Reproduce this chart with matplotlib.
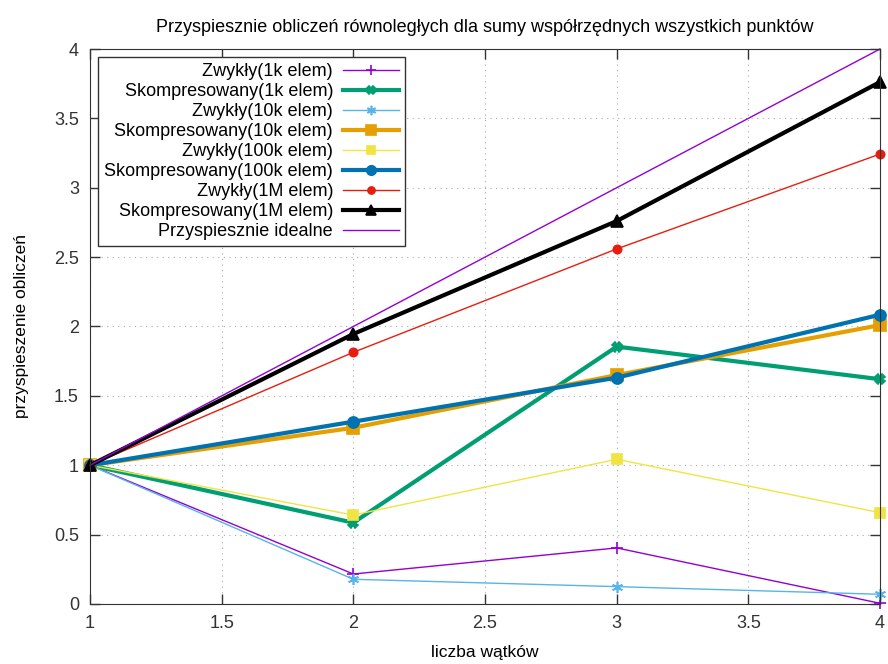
import matplotlib.pyplot as plt
import numpy as np

plt.rcParams['font.family'] = ['Liberation Sans', 'DejaVu Sans']

threads = [1, 2, 3, 4]

zwykly_1k = [1.0, 0.216, 0.404, 0.005]
skomp_1k = [1.0, 0.586, 1.855, 1.62]
zwykly_10k = [1.0, 0.178, 0.125, 0.07]
skomp_10k = [1.0, 1.27, 1.65, 2.01]
zwykly_100k = [1.0, 0.641, 1.043, 0.658]
skomp_100k = [1.0, 1.314, 1.631, 2.085]
zwykly_1m = [1.0, 1.814, 2.559, 3.243]
skomp_1m = [1.0, 1.946, 2.76, 3.762]
ideal = [1, 2, 3, 4]

labels = ["Zwykły(1k elem)", "Skompresowany(1k elem)", "Zwykły(10k elem)",
          "Skompresowany(10k elem)", "Zwykły(100k elem)", "Skompresowany(100k elem)",
          "Zwykły(1M elem)", "Skompresowany(1M elem)", "Przyspiesznie idealne"]

series = [zwykly_1k, skomp_1k, zwykly_10k, skomp_10k, zwykly_100k, skomp_100k,
          zwykly_1m, skomp_1m, ideal]

# gnuplot-like styles: color, linewidth, marker, markersize
styles = [
    ("#9400d3", 1.0, "+", 8),
    ("#009e73", 3.0, "X", 7),
    ("#56b4e9", 1.0, (6, 2, 0), 8),
    ("#e69f00", 3.0, "s", 8),
    ("#f0e442", 1.0, "s", 7),
    ("#0072b2", 3.0, "o", 8),
    ("#e51e10", 1.0, "o", 6),
    ("#000000", 3.0, "^", 9),
    ("#9400d3", 1.0, None, 0),
]

fig = plt.figure(figsize=(8.88, 6.64), dpi=100)
ax = fig.add_axes([0.1014, 0.0904, 0.8896, 0.8358])

for vals, lab, (col, lw, mk, ms) in zip(series, labels, styles):
    ax.plot(threads, vals, color=col, linewidth=lw, marker=mk, markersize=ms,
            markeredgewidth=1.2, label=lab, clip_on=False)

ax.set_xlim(1, 4)
ax.set_ylim(0, 4)
ax.set_xticks(np.arange(1, 4.01, 0.5))
ax.set_xticklabels(["1", "1.5", "2", "2.5", "3", "3.5", "4"])
ax.set_yticks(np.arange(0, 4.01, 0.5))
ax.set_yticklabels(["0", "0.5", "1", "1.5", "2", "2.5", "3", "3.5", "4"])
ax.tick_params(direction='in', length=7, width=1, top=True, right=True,
               labelsize=13, colors='#333333', pad=8)
for sp in ax.spines.values():
    sp.set_color('#333333')
ax.grid(True, linestyle=(0, (1, 4)), color='#aaaaaa', linewidth=0.8)
ax.set_axisbelow(True)

ax.set_title("Przyspiesznie obliczeń równoległych dla sumy współrzędnych wszystkich punktów",
             fontsize=13, pad=12)
ax.set_xlabel("liczba wątków", fontsize=12.5, labelpad=9)
ax.set_ylabel("przyspieszenie obliczeń", fontsize=12.5, labelpad=18)

leg = ax.legend(loc='upper left', bbox_to_anchor=(0.01, 0.986), borderaxespad=0,
                markerfirst=False, fontsize=13, frameon=True, fancybox=False,
                edgecolor='#333333', framealpha=1, labelspacing=0.165,
                handlelength=3.1, handletextpad=0.55, borderpad=0.35, numpoints=1,
                markerscale=0.85)
leg.get_frame().set_linewidth(1.0)

fig.savefig("out.png", dpi=100)
